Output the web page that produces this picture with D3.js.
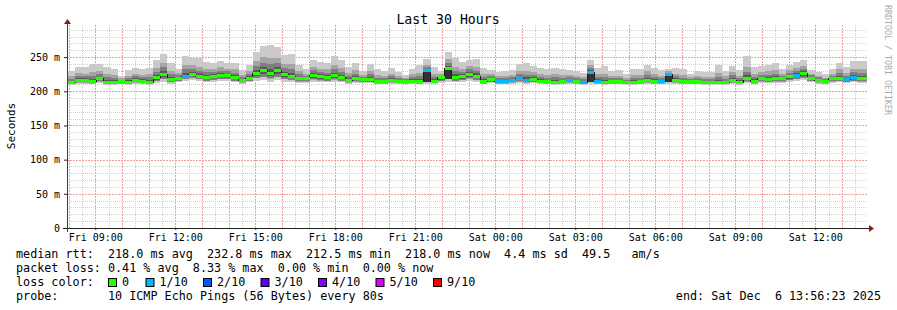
<!DOCTYPE html>
<html><head><meta charset="utf-8">
<script src="https://cdn.jsdelivr.net/npm/d3@7"></script>
<style>
body{margin:0;background:#fff;}
svg{display:block;}
text{font-family:"DejaVu Sans Mono",monospace;}
</style></head><body>
<svg id="chart" width="897" height="310"></svg>
<script>
// ---------------- data ----------------
const title = "Last 30 Hours";
const yLabel = "Seconds";
const sideLabel = "RRDTOOL / TOBI OETIKER";
const startHour = 7 + 56/60 + 23/3600;        // Fri 07:56:23 (hours since Fri 00:00)
const endHour = startHour + 30;                 // Sat 13:56:23
const binStartHour = 7.9733;                    // first consolidated row
const binHours = 16/60;                         // 12 x 80 s
const yTickValues = [0, 50, 100, 150, 200, 250];
const yTickLabels = ["0", "50 m", "100 m", "150 m", "200 m", "250 m"];
const xTickHours = [9, 12, 15, 18, 21, 24, 27, 30, 33, 36];
const xTickLabels = ["Fri 09:00", "Fri 12:00", "Fri 15:00", "Fri 18:00", "Fri 21:00",
                     "Sat 00:00", "Sat 03:00", "Sat 06:00", "Sat 09:00", "Sat 12:00"];

// ms, one value per 16-minute row
const pingMax = [230,236,235,240,240,236,233,223,231,234,
  232,234,246,255,241,233,252,249,248,243,
  242,245,241,241,231,239,258,266,268,265,
  253,255,239,233,246,243,242,251,246,236,
  242,229,240,233,230,234,228,224,233,238,
  247,235,229,258,249,243,246,247,234,231,
  228,230,231,240,242,237,234,232,234,233,
  231,229,227,246,234,237,230,231,226,233,
  233,239,234,231,233,234,232,226,229,228,
  228,239,229,237,231,251,235,237,239,241,
  232,239,243,246,231,228,225,232,242,236,
  244,244,244];
const pingUpper = [222,227,226,228,230,226,224,219,223,226,
  224,225,234,242,230,227,239,238,236,233,
  233,235,233,232,224,230,244,250,249,249,
  240,240,230,226,236,233,232,238,234,227,
  231,224,230,224,223,226,222,220,225,227,
  239,226,225,247,236,233,237,236,225,225,
  222,223,224,230,230,228,225,224,225,224,
  224,222,221,238,225,226,223,223,220,224,
  224,229,225,223,229,226,224,221,222,221,
  221,227,222,228,223,236,226,228,229,231,
  226,231,234,237,226,223,220,226,232,227,
  233,232,232];
const medianRtt = [213,216,216,214,218,213,213,214,213,216,
  215,213,220,225,217,219,222,225,222,220,
  222,223,223,220,216,219,226,230,226,230,
  224,222,218,218,223,221,220,223,220,216,
  218,217,217,214,214,216,215,214,215,214,
  230,215,220,233,220,221,225,222,214,217,
  214,214,216,218,216,217,215,214,213,214,
  216,214,213,228,214,213,214,214,213,213,
  214,216,214,214,224,216,214,214,214,213,
  213,213,213,216,213,218,214,218,217,218,
  218,221,223,226,219,216,214,218,219,217,
  220,218,218];
const coreLow = [212,215,215,213,217,212,212,213,212,215,
  214,212,219,224,216,218,221,224,221,219,
  221,222,222,219,215,218,225,229,225,229,
  223,221,217,217,222,220,219,222,219,215,
  217,216,216,213,213,215,214,213,214,213,
  214,214,219,218,219,220,224,221,213,216,
  213,213,215,217,215,216,214,213,212,213,
  215,213,212,213,213,212,213,213,212,212,
  213,215,213,213,214,215,213,213,213,212,
  212,212,212,215,212,217,213,217,216,217,
  217,220,222,225,218,215,213,217,218,216,
  219,217,217];
const pingMin = [209,211,211,210,212,209,209,210,209,211,
  210,209,212,214,211,213,215,216,215,213,
  214,215,215,213,211,213,215,216,214,216,
  214,213,212,212,214,213,213,214,213,211,
  212,212,212,210,210,211,210,210,210,210,
  211,210,212,213,213,214,215,214,210,212,
  210,210,211,212,211,212,210,210,209,210,
  211,210,209,210,210,209,210,210,209,209,
  210,211,210,210,211,211,210,210,210,209,
  209,209,209,211,209,212,210,212,212,212,
  212,214,215,216,213,211,210,212,213,212,
  213,212,212];
const lossCount = [0,0,0,0,0,0,0,0,0,0,
  0,0,0,0,0,0,1,0,0,0,
  0,0,0,0,0,0,0,0,0,0,
  0,0,0,0,0,0,0,0,0,0,
  0,0,0,0,0,0,0,0,0,0,
  1,0,0,0,0,0,0,0,0,0,
  1,1,1,1,1,0,0,0,0,0,
  1,0,1,1,1,0,0,0,0,0,
  0,0,0,1,1,0,0,0,0,0,
  0,0,0,0,0,0,0,0,0,0,
  0,0,1,0,0,0,0,0,0,1,
  1,0,0];

const lossLegend = ["0", "1/10", "2/10", "3/10", "4/10", "5/10", "9/10"];
const lossColors = ["#26ff00", "#00b8ff", "#0059ff", "#5e00ff", "#7e00ff", "#dd00ff", "#ff0000"];
const legendLines = [
  "median rtt:  218.0 ms avg  232.8 ms max  212.5 ms min  218.0 ms now  4.4 ms sd  49.5   am/s",
  "packet loss: 0.41 % avg  8.33 % max  0.00 % min  0.00 % now",
  "loss color:",
  "probe:       10 ICMP Echo Pings (56 Bytes) every 80s"
];
const endLabel = "end: Sat Dec  6 13:56:23 2025";

// ---------------- drawing ----------------
const svg = d3.select("#chart");
const L = 67, R = 867, B = 228, T = 25;
const x = d3.scaleLinear().domain([startHour, endHour]).range([L, R]);
const y = d3.scaleLinear().domain([0, 297]).range([B, T]);

svg.append("rect").attr("width", 897).attr("height", 310).attr("fill", "#fff");

// grid
const g = svg.append("g").attr("shape-rendering", "crispEdges");
const minorCol = "#d0d0d0", majorCol = "#f0a0a0";
const hMinor = d3.range(10, 300, 10).filter(v => v % 50 !== 0);
const hMajor = d3.range(50, 300, 50);
const vMinor = d3.range(Math.ceil(startHour * 2) / 2, endHour, 0.5).filter(h => Math.abs(h - Math.round(h)) > 0.01);
const vMajor = d3.range(Math.ceil(startHour), endHour, 1);
function hLines(data, col, dash) {
  g.selectAll(null).data(data).join("line")
    .attr("x1", L).attr("x2", R).attr("y1", d => Math.round(y(d)) + 0.5).attr("y2", d => Math.round(y(d)) + 0.5)
    .attr("stroke", col).attr("stroke-dasharray", dash);
}
function vLines(data, col, dash) {
  g.selectAll(null).data(data).join("line")
    .attr("y1", T).attr("y2", B).attr("x1", d => Math.round(x(d)) + 0.5).attr("x2", d => Math.round(x(d)) + 0.5)
    .attr("stroke", col).attr("stroke-dasharray", dash);
}
hLines(hMinor, minorCol, "1,1"); vLines(vMinor, minorCol, "1,1");
hLines(hMajor, majorCol, "2,1"); vLines(vMajor, majorCol, "2,1");

// smoke
const bins = medianRtt.map((m, i) => ({
  i, med: m, max: pingMax[i], up: pingUpper[i], min: pingMin[i], core: coreLow[i], loss: lossCount[i],
  x0: x(binStartHour + i * binHours), x1: Math.min(R, x(binStartHour + (i + 1) * binHours))
}));
const layers = [
  {c: "#cacaca", lo: d => d.min, hi: d => d.max},
  {c: "#a4a4a4", lo: d => d.min + (d.med - d.min) * 0.35, hi: d => d.up},
  {c: "#7e7e7e", lo: d => d.med - (d.med - d.min) * 0.6, hi: d => d.med + (d.up - d.med) * 0.6},
  {c: "#585858", lo: d => d.med - (d.med - d.min) * 0.35, hi: d => d.med + (d.up - d.med) * 0.3},
  {c: "#323232", lo: d => d.core, hi: d => d.med + 1.2}
];
const sm = svg.append("g").attr("shape-rendering", "crispEdges");
layers.forEach(ly => {
  sm.selectAll(null).data(bins).join("rect")
    .attr("x", d => d.x0).attr("width", d => d.x1 - d.x0)
    .attr("y", d => y(ly.hi(d))).attr("height", d => y(ly.lo(d)) - y(ly.hi(d)))
    .attr("fill", ly.c);
});

// median step line
const stepLine = d3.line().x(d => d.x).y(d => y(d.v)).curve(d3.curveStepAfter);
const stepPts = bins.map(d => ({x: d.x0, v: d.med})).concat([{x: R, v: bins[bins.length - 1].med}]);
svg.append("path").attr("d", stepLine(stepPts)).attr("fill", "none").attr("stroke", "#1a1a1a").attr("stroke-width", 1)
  .attr("shape-rendering", "crispEdges");
const lossIdx = n => n >= 9 ? 6 : (n >= 5 ? 5 : n);
svg.append("g").selectAll("rect").data(bins).join("rect")
  .attr("x", d => d.x0).attr("width", d => d.x1 - d.x0)
  .attr("y", d => y(d.med) - 1.5).attr("height", 3)
  .attr("fill", d => lossColors[lossIdx(d.loss)]).attr("shape-rendering", "crispEdges");

// axes
const yAxis = d3.axisLeft(y).tickValues(yTickValues).tickFormat((d, i) => yTickLabels[i]).tickSize(3).tickPadding(4);
const ya = svg.append("g").attr("transform", `translate(${L},0)`).call(yAxis);
ya.select(".domain").remove();
ya.selectAll("line").attr("stroke", "#222");
ya.selectAll("text").attr("font-size", "10px").attr("fill", "#000").attr("font-family", "DejaVu Sans Mono");

const xAxis = d3.axisBottom(x).tickValues(xTickHours).tickFormat((d, i) => xTickLabels[i]).tickSize(2).tickPadding(4);
const xa = svg.append("g").attr("transform", `translate(0,${B})`).call(xAxis);
xa.select(".domain").remove();
xa.selectAll("line").attr("stroke", "#222");
xa.selectAll("text").attr("font-size", "10px").attr("fill", "#000").attr("font-family", "DejaVu Sans Mono");

// axis lines + arrows
svg.append("line").attr("x1", L - 4).attr("x2", R + 3).attr("y1", B + 0.5).attr("y2", B + 0.5).attr("stroke", "#1f1f1f");
svg.append("line").attr("x1", L + 0.5).attr("x2", L + 0.5).attr("y1", B + 4).attr("y2", T - 2).attr("stroke", "#5a3030");
svg.append("path").attr("d", `M${R + 2},${B - 3} L${R + 7},${B + 0.5} L${R + 2},${B + 4} Z`).attr("fill", "#8b1a1a");
svg.append("path").attr("d", `M${L - 3},${T - 1} L${L + 0.5},${T - 6} L${L + 4},${T - 1} Z`).attr("fill", "#8b1a1a");

// title and labels
svg.append("text").attr("x", 448).attr("y", 24).attr("text-anchor", "middle").attr("font-size", "13.2px").text(title);
svg.append("text").attr("transform", "translate(15,126) rotate(-90)").attr("text-anchor", "middle")
  .attr("font-size", "11px").text(yLabel);
svg.append("text").attr("transform", "translate(885,60) rotate(90)").attr("text-anchor", "middle")
  .attr("font-size", "8.3px").attr("fill", "#aaaaaa").text(sideLabel);

// legend
const fs = "11.75px";
const lineY = [258, 272, 286, 300];
legendLines.forEach((t, i) => {
  svg.append("text").attr("x", 16).attr("y", lineY[i]).attr("font-size", fs).style("white-space", "pre").text(t);
});
const boxX = [108, 145.5, 203, 260.5, 318, 375.5, 433];
lossLegend.forEach((t, i) => {
  svg.append("rect").attr("x", boxX[i] + 0.5).attr("y", 278.5).attr("width", 8).attr("height", 8)
    .attr("fill", lossColors[i]).attr("stroke", "#000").attr("stroke-width", 1);
  svg.append("text").attr("x", boxX[i] + 14).attr("y", lineY[2]).attr("font-size", fs).text(t);
});
svg.append("text").attr("x", 881).attr("y", lineY[3]).attr("text-anchor", "end").attr("font-size", fs)
  .style("white-space", "pre").text(endLabel);
</script>
</body></html>
